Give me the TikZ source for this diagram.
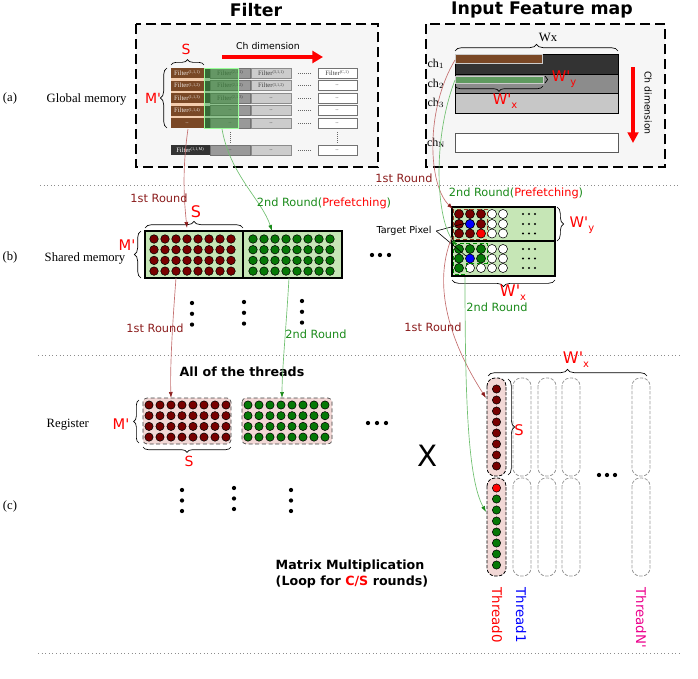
\documentclass[tikz,border=0pt]{standalone}
\usepackage{fontspec}
\setmainfont{Liberation Serif}
\setsansfont{DejaVu Sans}
\usetikzlibrary{decorations.pathreplacing,arrows.meta}
\definecolor{dred}{HTML}{780000}
\definecolor{dgreen}{HTML}{067806}
\definecolor{shgreen}{HTML}{C6E6B6}
\definecolor{rpink}{HTML}{F2D8D6}
\definecolor{brn}{HTML}{7A4826}
\definecolor{peach}{HTML}{F4CDAE}
\definecolor{rtxt}{HTML}{8B1C1C}
\definecolor{gtxt}{HTML}{1A8A1A}
\definecolor{rline}{HTML}{C47070}
\definecolor{gline}{HTML}{70C070}
\definecolor{boxbg}{HTML}{F6F6F6}
\definecolor{trgreen}{HTML}{5F9A5F}
\newcommand{\fs}[1]{\fontsize{#1}{#1}\selectfont}
\newcommand{\myq}{\textquotesingle}
\newcommand{\sbx}[1]{\raisebox{-0.45ex}{\fs{7.5}#1}}
\newcommand{\flt}[1]{Filter\raisebox{0.6ex}{\fs{3.2}(#1)}}
\begin{document}
\begin{tikzpicture}[x=0.75pt,y=-0.75pt,
  gbox/.style={draw=black, line width=1.9pt, dash pattern=on 7.5pt off 3.75pt, fill=boxbg},
  sepline/.style={draw=black!45, dotted, line width=0.7pt},
  brc/.style={decorate, decoration={brace, amplitude=#1}, line width=0.5pt},
  brc/.default=4pt,
  redlbl/.style={text=red, font=\sffamily\fs{10}},
  rnd1/.style={text=rtxt, font=\sffamily\fs{8.5}},
  rnd2/.style={text=gtxt, font=\sffamily\fs{8.5}},
  rconn/.style={draw=rline, line width=0.5pt, -{Latex[length=4.5pt,width=3pt,color=rtxt]}},
  gconn/.style={draw=gline, line width=0.5pt, -{Latex[length=4.5pt,width=3pt,color=gtxt]}},
  lvl/.style={font=\fs{9.5}},
  cell/.style={font=\fs{5}, inner sep=0pt},
  rdot/.style={fill=dred, draw=black, line width=0.4pt},
  gdot/.style={fill=dgreen, draw=black, line width=0.4pt},
  wdot/.style={fill=white, draw=black, line width=0.4pt},
  bigdot/.style={fill=black},
  shblock/.style={fill=shgreen, draw=black, line width=1.2pt},
  regblock/.style={fill=rpink, draw=black!75, densely dashed, line width=0.5pt, rounded corners=3pt},
  thr/.style={fill=rpink, draw=black, dash pattern=on 2.5pt off 1.2pt, line width=0.6pt, rounded corners=6pt},
  thrg/.style={fill=white, draw=black!40, dash pattern=on 2.5pt off 1.2pt, line width=0.6pt, rounded corners=6pt},
  ttl/.style={font=\sffamily\bfseries\fs{13}},
  bld/.style={font=\sffamily\bfseries\fs{9.5}}
]
\useasboundingbox (0,0) rectangle (698,678);

% titles
\node[ttl] (tfilter) at (256,10) {Filter};
\node[ttl] (tinput) at (542,10) {Input Feature map};

% level labels
\node[lvl] (la) at (10,98) {(a)};
\node[lvl, anchor=west] (lglobal) at (42,99) {Global memory};
\node[lvl] (lb) at (10,257) {(b)};
\node[lvl, anchor=west] (lshared) at (40,258) {Shared memory};
\node[lvl, anchor=west] (lreg) at (42,425) {Register};
\node[lvl] (lc) at (10,506) {(c)};

% separators
\draw[sepline] (40,185) -- (680,185);
\draw[sepline] (38,355) -- (680,355);
\draw[sepline] (38,653) -- (680,653);

% ---------------- Global memory: filter ----------------
\path[gbox] (136,24) rectangle (378,167);
\foreach \t in {68,80.5,93,105.5,118,145}{
  \fill[black!80] (171,\t) rectangle (210,{\t+10});
  \filldraw[fill=black!40, draw=black!55, line width=0.4pt] (210,\t) rectangle (250,{\t+10});
  \filldraw[fill=black!20, draw=black!45, line width=0.4pt] (251,\t) rectangle (291,{\t+10});
  \filldraw[fill=white, draw=black!55, line width=0.5pt] (318,\t) rectangle (357,{\t+10});
  \draw[black!60, densely dotted, line width=0.5pt] (298,{\t+5}) -- (312,{\t+5});
}
\draw[black!60, densely dotted, line width=0.5pt] (230,132) -- (230,143);
\draw[black!60, densely dotted, line width=0.5pt] (337,132) -- (337,143);
% cell texts (col 2,3,4)
\node[cell, text=black!75] (f21) at (230,73) {\flt{2,1,1}};
\node[cell, text=black!75] (f22) at (230,85.5) {\flt{2,1,2}};
\node[cell, text=black!75] (f23) at (230,98) {\flt{2,1,3}};
\node[cell, text=black!75] (f24) at (230,110.5) {..};
\node[cell, text=black!75] (f25) at (230,123) {..};
\node[cell, text=black!75] (f26) at (230,150) {..};
\node[cell, text=black!75] (f31) at (271,73) {\flt{3,1,1}};
\node[cell, text=black!75] (f32) at (271,85.5) {\flt{3,1,2}};
\node[cell, text=black!75] (f33) at (271,98) {..};
\node[cell, text=black!75] (f34) at (271,110.5) {..};
\node[cell, text=black!75] (f35) at (271,123) {..};
\node[cell, text=black!75] (f36) at (271,150) {..};
\node[cell, text=black!75] (f41) at (337,73) {\flt{C,1}};
\node[cell, text=black!75] (f42) at (337,85.5) {..};
\node[cell, text=black!75] (f43) at (337,98) {..};
\node[cell, text=black!75] (f44) at (337,110.5) {..};
\node[cell, text=black!75] (f45) at (337,123) {..};
\node[cell, text=black!75] (f46) at (337,150) {..};
% brown column
\fill[peach] (171,68) rectangle (204,128);
\foreach \t in {68,80.5,93,105.5,118}{
  \fill[brn] (171,\t) rectangle (204,{\t+10});
}
\node[cell, text=white!85!brn] (f11) at (187,73) {\flt{1,1,1}};
\node[cell, text=white!85!brn] (f12) at (187,85.5) {\flt{1,1,2}};
\node[cell, text=white!85!brn] (f13) at (187,98) {\flt{1,1,3}};
\node[cell, text=white!85!brn] (f14) at (187,110.5) {\flt{1,1,4}};
\node[cell, text=white!85!brn] (f15) at (187,123) {..};
\node[cell, text=white!85] (f16) at (190,150) {\flt{1,1,M}};
% green overlay
\filldraw[fill={rgb,255:red,60;green,150;blue,60}, fill opacity=0.55, draw=green!40!white, line width=0.4pt] (204,68) rectangle (238,128);
% braces S, M'
\draw[brc=4pt] (171,65) -- (204,65);
\node[redlbl, font=\sffamily\fs{10.5}] (fS) at (186,49) {S};
\draw[brc=5pt] (167,128) -- (167,68);
\node[redlbl, font=\sffamily\fs{10.5}] (fM) at (153,98) {M\myq};
% Ch dimension arrow
\node[font=\sffamily\fs{7}] (fch) at (268,46) {Ch dimension};
\coordinate (fcha) at (222,57);
\coordinate (fchb) at (323,57);
\draw[red, line width=3pt, -{Triangle[length=8pt,width=9pt]}] (fcha) -- (fchb);

% ---------------- Global memory: input ----------------
\path[gbox] (426,24) rectangle (665,167);
\filldraw[fill=black!80, draw=black, line width=0.6pt] (455,54) rectangle (618,74);
\filldraw[fill=black!45, draw=black, line width=0.6pt] (455,74) rectangle (618,93);
\filldraw[fill=black!22, draw=black, line width=0.6pt] (455,93) rectangle (618,113);
\filldraw[fill=white, draw=black!65, line width=0.6pt] (455,133) rectangle (618,152);
\filldraw[fill=brn, draw=black!20, line width=0.4pt] (455,54) rectangle (542,63);
\filldraw[fill=trgreen, draw=black!20, line width=0.4pt] (455,76) rectangle (543,83);
\node[font=\fs{9}] (ch1) at (436,64) {ch$_1$};
\node[font=\fs{9}] (ch2) at (436,84) {ch$_2$};
\node[font=\fs{9}] (ch3) at (436,103) {ch$_3$};
\node[font=\fs{9}] (chN) at (436,143) {ch$_\mathrm{N}$};
\draw[brc=5pt] (455,51) -- (618,51);
\node[font=\fs{9.5}] (wx) at (548,37) {Wx};
\draw[brc=4pt] (543,86) -- (455,86);
\node[redlbl, font=\sffamily\fs{11}] (iwx) at (505,101) {W\myq\sbx{x}};
\draw[brc=2pt] (545,76) -- (545,83);
\node[redlbl, font=\sffamily\fs{11}] (iwy) at (564,79) {W\myq\sbx{y}};
\coordinate (icha) at (633,67);
\coordinate (ichb) at (633,143);
\draw[red, line width=2.6pt, -{Triangle[length=8pt,width=8pt]}] (icha) -- (ichb);
\node[font=\sffamily\fs{7}, rotate=-90] (ich) at (648,103) {Ch dimension};
\coordinate (brownstrip) at (455,60);
\coordinate (greenstrip) at (455,80);
\coordinate (fbrown) at (188,129);
\coordinate (fgreen) at (222,129);

% ---------------- Shared memory ----------------
\path[shblock] (145,231) rectangle (243,278);
\path[shblock] (243,231) rectangle (342,278);
\foreach \i in {0,...,7}{
  \foreach \j in {0,...,3}{
    \path[rdot] ({154+11*\i},{239+10.7*\j}) circle[radius=3.2pt];
    \path[gdot] ({253+11*\i},{239+10.7*\j}) circle[radius=3.2pt];
  }
}
\draw[brc=5pt] (145,228) -- (243,228);
\node[redlbl, font=\sffamily\fs{12}] (sS) at (196,212) {S};
\draw[brc=5pt] (141,278) -- (141,231);
\node[redlbl, font=\sffamily\fs{11}] (sM) at (127,245) {M\myq};
\foreach \x in {372,380,389}{\path[bigdot] (\x,255) circle[radius=1.6pt];}
\coordinate (shA) at (187,228);
\coordinate (shB) at (272,231);
\coordinate (shAb) at (176,278);
\coordinate (shBb) at (289,278);

% input shared
\path[shblock] (452,207) rectangle (555,241);
\path[shblock] (452,241) rectangle (555,276);
\foreach \x/\c in {459/rdot,470/rdot,481/rdot,492/wdot,503/wdot}{\path[\c] (\x,214) circle[radius=3.4pt];}
\foreach \x/\c in {459/rdot,470/wdot,481/rdot,492/wdot,503/wdot}{\path[\c] (\x,224) circle[radius=3.4pt];}
\path[fill=blue, draw=black, line width=0.4pt] (470,224) circle[radius=3.4pt];
\foreach \x/\c in {459/rdot,470/rdot,492/wdot,503/wdot}{\path[\c] (\x,233.5) circle[radius=3.4pt];}
\path[fill=red, draw=black, line width=0.4pt] (481,233.5) circle[radius=3.4pt];
\foreach \x/\c in {459/gdot,470/gdot,481/gdot,492/wdot,503/wdot}{\path[\c] (\x,249) circle[radius=3.4pt];}
\foreach \x/\c in {459/gdot,481/gdot,492/wdot,503/wdot}{\path[\c] (\x,258.5) circle[radius=3.4pt];}
\path[fill=blue, draw=black, line width=0.4pt] (470,258.5) circle[radius=3.4pt];
\foreach \x/\c in {459/gdot,470/wdot,481/wdot,492/wdot,503/wdot}{\path[\c] (\x,268) circle[radius=3.4pt];}
\foreach \y in {214,224,233.5,249,258.5,268}{
  \foreach \x in {523,529,535}{\path[bigdot] (\x,\y) circle[radius=0.9pt];}
}
\draw[draw=brn!80!red, densely dashed, line width=0.4pt] (453,209) rectangle (487,239);
\draw[draw=green!55!black, densely dashed, line width=0.4pt] (453,243) -- (487,243) -- (487,263) -- (466,263) -- (466,274) -- (453,274) -- cycle;
\draw[brc=5pt] (557,207) -- (557,241);
\node[redlbl, font=\sffamily\fs{11}, anchor=west] (swy) at (565,225) {W\myq\sbx{y}};
\draw[brc=5pt] (555,280) -- (452,280);
\node[redlbl, font=\sffamily\fs{12}] (swx) at (513,293) {W\myq\sbx{x}};
\node[font=\sffamily\fs{7.2}] (tp) at (404,231) {Target Pixel};
\coordinate (blueA) at (466,223);
\coordinate (blueB) at (466,256);
\draw[line width=0.45pt] (tp.east) -- (blueA);
\draw[line width=0.45pt] (tp.east) -- (blueB);
\coordinate (inTop) at (453,209);
\coordinate (inBot) at (457,246);
\coordinate (inTopL) at (452,237);
\coordinate (inBotB) at (465,277);

% vertical dots (b)
\foreach \x/\y in {192/303,244/302,302/301}{
  \foreach \k in {0,1,2}{\path[bigdot] (\x,{\y+10.8*\k}) circle[radius=1.6pt];}
}

% ---------------- Register ----------------
\node[bld] (allth) at (242,372) {All of the threads};
\path[regblock] (143,398) rectangle (231,444);
\path[regblock] (242,398) rectangle (332,444);
\foreach \i in {0,...,7}{
  \foreach \j in {0,...,3}{
    \path[rdot] ({149+11*\i},{405+10.7*\j}) circle[radius=3.1pt];
    \path[gdot] ({248+11*\i},{405+10.7*\j}) circle[radius=3.1pt];
  }
}
\draw[brc=4pt] (139,443) -- (139,400);
\node[redlbl, font=\sffamily\fs{11}] (rM) at (121,424) {M\myq};
\draw[brc=4pt] (231,447) -- (143,447);
\node[redlbl, font=\sffamily\fs{10.5}] (rS) at (189,461) {S};
\foreach \x in {368,377,386}{\path[bigdot] (\x,423) circle[radius=1.6pt];}
\coordinate (regA) at (171,398);
\coordinate (regB) at (282,398);
\node[font=\sffamily\fs{22}] (times) at (428,456) {X};
\foreach \x/\y in {182/490,234/488,291/490}{
  \foreach \k in {0,1,2}{\path[bigdot] (\x,{\y+10.5*\k}) circle[radius=1.6pt];}
}
\node[bld, align=left, anchor=west] (mm1) at (271,566) {Matrix Multiplication};
\node[bld, align=left, anchor=west] (mm2) at (271,582) {(Loop for \textcolor{red}{C/S} rounds)};

% threads
\foreach \x in {513,538,562,632}{
  \path[thrg] (\x,378) rectangle ({\x+18},476);
  \path[thrg] (\x,478) rectangle ({\x+18},576);
}
\path[thr] (487,378) rectangle (506,476);
\path[thr] (487,478) rectangle (506,576);
\foreach \k in {0,...,7}{\path[rdot] (496.5,{389+11*\k}) circle[radius=3.1pt];}
\path[fill=red, draw=black, line width=0.4pt] (496.5,488) circle[radius=3.1pt];
\foreach \k in {1,...,7}{\path[gdot] (496.5,{488+11*\k}) circle[radius=3.1pt];}
\foreach \x in {599,607,615}{\path[bigdot] (\x,475) circle[radius=1.6pt];}
\draw[brc=5pt] (508,379) -- (508,475);
\node[redlbl, font=\sffamily\fs{11}] (tS) at (519,430) {S};
\draw[brc=5pt] (488,376) -- (647,376);
\node[redlbl, font=\sffamily\fs{12}] (tW) at (576,360) {W\myq\sbx{x}};
\node[font=\sffamily\fs{10}, text=red, rotate=-90, anchor=west] (th0) at (497,583) {Thread0};
\node[font=\sffamily\fs{10}, text=blue, rotate=-90, anchor=west] (th1) at (521,583) {Thread1};
\node[font=\sffamily\fs{10}, text=magenta, rotate=-90, anchor=west] (thN) at (641,583) {ThreadN\myq};
\coordinate (thA) at (486,398);
\coordinate (thB) at (486,512);

% ---------------- connectors ----------------
\draw[rconn] (fbrown) .. controls (182,170) and (184,200) .. (shA);
\draw[gconn] (fgreen) .. controls (230,175) and (262,200) .. (shB);
\draw[rconn] (brownstrip) .. controls (425,110) and (428,185) .. (inTop);
\draw[gconn] (greenstrip) .. controls (432,140) and (436,220) .. (inBot);
\draw[rconn] (shAb) .. controls (172,330) and (170,370) .. (regA);
\draw[gconn] (shBb) .. controls (286,330) and (282,370) .. (regB);
\draw[rconn] (inTopL) .. controls (430,290) and (455,350) .. (thA);
\draw[gconn] (inBotB) .. controls (465,400) and (468,480) .. (thB);

% round labels
\node[rnd1] (r1a) at (159,198) {1st Round};
\node[rnd2] (r2a) at (324,203) {2nd Round(\textcolor{red}{Prefetching})};
\node[rnd1] (r1b) at (404,178) {1st Round};
\node[rnd2] (r2b) at (516,193) {2nd Round(\textcolor{red}{Prefetching})};
\node[rnd1] (r1c) at (155,328) {1st Round};
\node[rnd2] (r2c) at (316,334) {2nd Round};
\node[rnd2] (r2d) at (497,307) {2nd Round};
\node[rnd1] (r1d) at (433,327) {1st Round};
\end{tikzpicture}
\end{document}
